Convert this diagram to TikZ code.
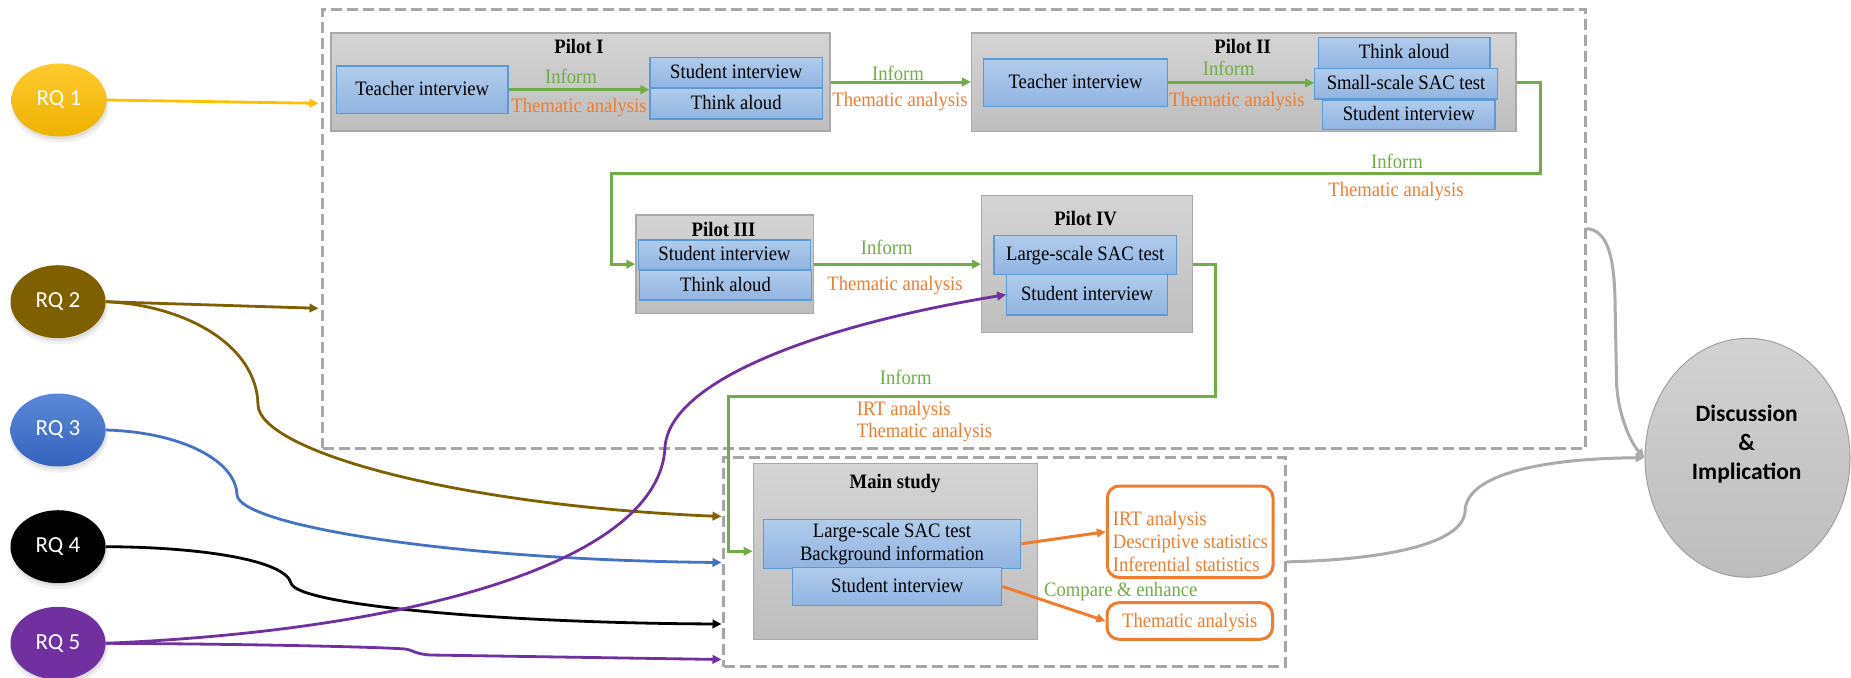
\documentclass[tikz,border=0pt]{standalone}
\usepackage{fontspec}
\setmainfont{Liberation Serif}[FakeStretch=0.91]
\newfontfamily\rqfont{Carlito}
\usetikzlibrary{arrows.meta,shapes.geometric,shadows,calc}

\definecolor{rqgoldtop}{HTML}{FFCA2E}
\definecolor{rqgoldbot}{HTML}{EDB100}
\definecolor{rqgold}{HTML}{FFC000}
\definecolor{rqbrown}{HTML}{7F6000}
\definecolor{rqbluetop}{HTML}{5A88D8}
\definecolor{rqbluebot}{HTML}{3563BC}
\definecolor{rqblue}{HTML}{4472C4}
\definecolor{rqpurple}{HTML}{7030A0}
\definecolor{flowgreen}{HTML}{70AD47}
\definecolor{floworange}{HTML}{ED7D31}
\definecolor{zonegrey}{HTML}{A6A6A6}
\definecolor{linkgrey}{HTML}{ABABAB}
\definecolor{stageedge}{HTML}{A9A9A9}
\definecolor{boxtop}{HTML}{D4D4D4}
\definecolor{boxbot}{HTML}{BEBEBE}
\definecolor{cardtop}{HTML}{B1CCEC}
\definecolor{cardbot}{HTML}{91B4E1}
\definecolor{cardedge}{HTML}{5B9BD5}
\definecolor{disctop}{HTML}{D2D2D2}
\definecolor{discbot}{HTML}{BDBDBD}
\definecolor{discedge}{HTML}{A0A0A0}

\newcommand\bodysize{\fontsize{20.5}{22.7}\selectfont}

\tikzset{
  zone/.style={draw=zonegrey, line width=3pt, dash pattern=on 11pt off 5pt, inner sep=0pt},
  stage/.style={draw=stageedge, line width=1.3pt, top color=boxtop, bottom color=boxbot, inner sep=0pt},
  card/.style={draw=cardedge, line width=1.3pt, top color=cardtop, bottom color=cardbot,
    inner sep=0pt, font=\bodysize, text=black},
  oneline/.style={text height=13pt, text depth=1pt},
  stagetitle/.style={font=\bfseries\bodysize, inner sep=0pt, oneline},
  greenlab/.style={text=flowgreen, font=\bodysize, inner sep=0pt, oneline},
  orangelab/.style={text=floworange, font=\bodysize, inner sep=0pt, oneline},
  result/.style={draw=floworange, line width=3pt, rounded corners=12pt, fill=white, inner sep=0pt},
  rq/.style={ellipse, minimum width=95pt, minimum height=73pt, inner sep=0pt, text=white,
    font=\rqfont\fontsize{23}{26}\selectfont,
    drop shadow={opacity=0.12, shadow xshift=1pt, shadow yshift=-5pt, shadow scale=1.03},
    drop shadow={opacity=0.15, shadow xshift=1pt, shadow yshift=-3pt}},
  flow/.style={line width=3pt, -{Triangle[length=9pt,width=8.5pt]}},
  rqlink/.style={line width=2.8pt, -{Triangle[length=9pt,width=8.5pt]}},
}

\begin{document}
\begin{tikzpicture}[x=1pt, y=-1pt]
\useasboundingbox (0,0) rectangle (1851,677);

% dashed zones: pilot phase and main study
\node[zone, minimum width=1262.5pt, minimum height=438.7pt] (pilotzone) at (953.75,228.65) {};
\node[zone, minimum width=561.5pt, minimum height=209.7pt] (mainzone) at (1004.25,561.85) {};

% research questions
\node[rq, top color=rqgoldtop, bottom color=rqgoldbot] (rq1) at (59,100) {RQ 1};
\node[rq, fill=rqbrown] (rq2) at (58,301.7) {RQ 2};
\node[rq, top color=rqbluetop, bottom color=rqbluebot] (rq3) at (58,430) {RQ 3};
\node[rq, fill=black] (rq4) at (58,546.7) {RQ 4};
\node[rq, fill=rqpurple] (rq5) at (58,643.3) {RQ 5};

% Pilot I
\node[stage, minimum width=499pt, minimum height=98pt] (pilot1) at (580.5,82) {};
\node[stagetitle] (pilot1title) at (579,48) {Pilot I};
\node[card, oneline, minimum width=171.5pt, minimum height=47.3pt] (p1teacher) at (422.25,89.65) {Teacher interview};
\node[card, oneline, minimum width=172.5pt, minimum height=30.4pt] (p1student) at (736.25,72.5) {Student interview};
\node[card, oneline, minimum width=172.5pt, minimum height=30.7pt] (p1think) at (736.25,103.65) {Think aloud};

% Pilot II
\node[stage, minimum width=544.4pt, minimum height=98.7pt] (pilot2) at (1243.8,82.35) {};
\node[stagetitle] (pilot2title) at (1242.6,48) {Pilot II};
\node[card, oneline, minimum width=183.7pt, minimum height=47.7pt] (p2teacher) at (1075.55,82.85) {Teacher interview};
\node[card, oneline, minimum width=171.6pt, minimum height=31pt] (p2think) at (1404.2,52.8) {Think aloud};
\node[card, oneline, minimum width=172.3pt, minimum height=29.3pt] (p2student) at (1408.85,114.65) {Student interview};
\node[card, oneline, minimum width=182.5pt, minimum height=30.7pt] (p2small) at (1406.05,83.65) {Small-scale SAC test};

% Pilot III
\node[stage, minimum width=177.7pt, minimum height=98.3pt] (pilot3) at (724.85,264.15) {};
\node[stagetitle] (pilot3title) at (723.6,230) {Pilot III};
\node[card, oneline, minimum width=172.4pt, minimum height=29.3pt] (p3student) at (724.5,254.65) {Student interview};
\node[card, oneline, minimum width=172.4pt, minimum height=30pt] (p3think) at (725.5,285) {Think aloud};

% Pilot IV
\node[stage, minimum width=210.6pt, minimum height=137pt] (pilot4) at (1087,264.2) {};
\node[stagetitle] (pilot4title) at (1085.6,219) {Pilot IV};
\node[card, oneline, minimum width=182.5pt, minimum height=38.8pt] (p4large) at (1085.25,254.9) {Large-scale SAC test};
\node[card, oneline, minimum width=160.7pt, minimum height=40.7pt] (p4student) at (1087.05,294.65) {Student interview};

% Main study
\node[stage, minimum width=284pt, minimum height=176pt] (mainstudy) at (895.3,551.3) {};
\node[stagetitle] (maintitle) at (895,482.7) {Main study};
\node[card, align=center, minimum width=257.4pt, minimum height=49pt] (msac) at (892,543.8) {Large-scale SAC test\\Background information};
\node[card, oneline, minimum width=209pt, minimum height=38.4pt] (mstudent) at (897.2,586.5) {Student interview};

% analysis outcomes
\node[result, minimum width=165.7pt, minimum height=91.5pt] (ores1) at (1190.15,531.75) {};
\node[text=floworange, font=\bodysize, align=left, anchor=west, inner sep=0pt] (ores1text) at (1112.7,541.5)
  {IRT analysis\\Descriptive statistics\\Inferential statistics};
\node[result, oneline, text=floworange, font=\bodysize, minimum width=165.5pt, minimum height=36.6pt] (ores2) at (1189.75,621) {Thematic analysis};

% discussion
\node[ellipse, draw=discedge, line width=1pt, top color=disctop, bottom color=discbot,
  minimum width=205pt, minimum height=239pt, inner sep=0pt] (disc) at (1747.5,457.8) {};
\node[font=\rqfont\bfseries\fontsize{23.5}{29}\selectfont, align=center, inner sep=0pt] (disctext) at (1746.7,444)
  {Discussion\\\&\\Implication};

% flow between pilots
\draw[flow, flowgreen] (p1teacher.east) -- (p1teacher.east -| p1student.west);
\node[greenlab] (l1a) at (571,77) {Inform};
\node[orangelab] (l1b) at (579,106) {Thematic analysis};

\draw[flow, flowgreen] (pilot1.east) -- (pilot1.east -| pilot2.west);
\node[greenlab] (l2a) at (898,74) {Inform};
\node[orangelab] (l2b) at (900,100.7) {Thematic analysis};

\draw[flow, flowgreen] (p2teacher.east) -- (p2teacher.east -| p2small.west);
\node[greenlab] (l3a) at (1228.7,69.3) {Inform};
\node[orangelab] (l3b) at (1237,100.7) {Thematic analysis};

\coordinate (loopright) at (1540.4,173.3);
\coordinate (loopleft) at (611.5,173.3);
\draw[flow, flowgreen] (pilot2.east) -| (loopright) -- (loopleft) |- (pilot3.west);
\node[greenlab] (l4a) at (1397,162.3) {Inform};
\node[orangelab] (l4b) at (1396,190.7) {Thematic analysis};

\draw[flow, flowgreen] (pilot3.east) -- (pilot3.east -| pilot4.west);
\node[greenlab] (l5a) at (886.7,248.3) {Inform};
\node[orangelab] (l5b) at (895,284.3) {Thematic analysis};

\coordinate (dropright) at (1215.5,396.7);
\coordinate (dropleft) at (728.5,396.7);
\draw[flow, flowgreen] (pilot4.east) -| (dropright) -- (dropleft) |- (mainstudy.west);
\node[greenlab] (l6a) at (905.7,378.3) {Inform};
\node[orangelab, anchor=west] (l6b) at (856.7,409.3) {IRT analysis};
\node[orangelab, anchor=west] (l6c) at (856.7,431.7) {Thematic analysis};

% main study analyses
\draw[flow, floworange] (msac.east) -- (ores1.west);
\draw[flow, floworange] (mstudent.east) -- (ores2.west);
\node[greenlab] (l7a) at (1120.8,590) {Compare \& enhance};

% research questions into the study phases
\coordinate (pin1) at (318.5,103.3);
\coordinate (pin2) at (318.5,308.3);
\coordinate (min2) at (721.5,516.5);
\coordinate (min3) at (721.5,562.5);
\coordinate (min4) at (721.5,624);
\coordinate (min5) at (721.5,659.5);

\draw[rqlink, rqgold] (rq1.east) -- (pin1);
\draw[rqlink, rqbrown] (rq2.east) -- (pin2);
\draw[rqlink, rqbrown] (rq2.east) .. controls (185,305) and (257,345) .. (258,405)
  .. controls (260,450) and (450,505) .. (min2);
\draw[rqlink, rqblue] (rq3.east) .. controls (180,432) and (236,460) .. (237,495)
  .. controls (240,525) and (450,560) .. (min3);
\draw[rqlink, black] (rq4.east) .. controls (200,547) and (285,560) .. (291,583)
  .. controls (296,605) and (500,623) .. (min4);
\draw[rqlink, rqpurple] (rq5.east) .. controls (250,644) and (380,647) .. (405,649)
  .. controls (413,650) and (415,654) .. (430,655) -- (min5);
\draw[rqlink, rqpurple] (rq5.east) .. controls (420,630) and (660,560) .. (665,447)
  .. controls (670,380) and (820,325) .. (p4student.west);

% both phases feed the discussion
\draw[flow, linkgrey] (pilotzone.east) .. controls (1605,230) and (1614,250) .. (1615,300)
  -- (1616.5,380) .. controls (1617,412) and (1630,442) .. (disc.west);
\draw[flow, linkgrey] (mainzone.east) .. controls (1380,560) and (1462,545) .. (1465,512)
  .. controls (1465,470) and (1560,458) .. (disc.west);
\end{tikzpicture}
\end{document}
